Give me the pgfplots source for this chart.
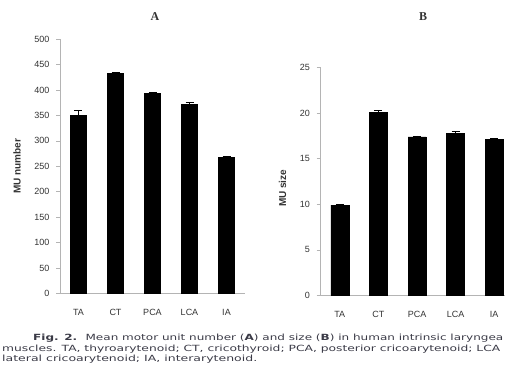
\documentclass[border=0pt]{standalone}
\usepackage{pgfplots}
\pgfplotsset{compat=1.18}
\usepackage{fontspec}
\setmainfont{Liberation Sans}
\newfontfamily\serifbold{Liberation Serif}
\newfontfamily\capfont{DejaVu Sans}
\usepackage{graphicx}
\definecolor{axgray}{HTML}{B4B4B4}
\definecolor{txtgray}{HTML}{333333}
\definecolor{capcol}{HTML}{3A3A46}
\pgfplotsset{
  mystyle/.style={
    scale only axis,
    axis lines*=left,
    axis line style={axgray, line width=0.8pt},
    xmin=-0.5, xmax=4.5, ymin=0,
    xtick={0,1,2,3,4},
    xticklabels={TA,CT,PCA,LCA,IA},
    major x tick style={draw=none},
    extra x ticks={0.5,1.5,2.5,3.5},
    extra x tick labels={},
    extra x tick style={major tick length=3pt, tick style={axgray, line width=0.6pt}, tick align=outside},
    ytick style={axgray, line width=0.6pt},
    major tick length=4pt,
    tick align=outside,
    /pgf/number format/assume math mode=true,
    ticklabel style={font=\fontsize{9}{10}\selectfont, text=txtgray},
    xticklabel style={yshift=-8pt},
    yticklabel style={xshift=-3pt},
    ylabel style={font=\bfseries\fontsize{10}{11}\selectfont, text=txtgray, anchor=center, rotate=0},
    clip=false,
  }
}
\begin{document}
\begin{tikzpicture}[x=1pt,y=1pt]
\useasboundingbox (0,0) rectangle (505,376);
\clip (0,0) rectangle (505,376);
% Panel A
\begin{axis}[mystyle,
  at={(60pt,82.5pt)}, anchor=south west,
  width=185pt, height=254.5pt,
  ymax=500, ytick={0,50,...,500},
  ylabel={MU number},
  ylabel style={at={(axis description cs:-0.232,0.5)}},
]
\addplot[ybar, bar width=16pt, fill=black, draw=black,
  error bars/.cd, y dir=plus, y explicit,
  error bar style={black, line width=0.8pt},
  error mark options={rotate=90, mark size=4pt, black, line width=0.8pt}]
coordinates {(0,350) +- (0,10) (1,432) +- (0,2) (2,393) +- (0,2) (3,371) +- (0,4) (4,268) +- (0,2)};
\end{axis}
% Panel B
\begin{axis}[mystyle,
  at={(320.5pt,80.5pt)}, anchor=south west,
  width=193pt, height=228pt,
  ymax=25, ytick={0,5,...,25},
  ylabel={MU size},
  ylabel style={at={(axis description cs:-0.197,0.47)}},
]
\addplot[ybar, bar width=18pt, fill=black, draw=black,
  error bars/.cd, y dir=plus, y explicit,
  error bar style={black, line width=0.8pt},
  error mark options={rotate=90, mark size=4pt, black, line width=0.8pt}]
coordinates {(0,9.9) +- (0,0.1) (1,20.1) +- (0,0.15) (2,17.4) +- (0,0.1) (3,17.8) +- (0,0.15) (4,17.1) +- (0,0.1)};
\end{axis}
% Titles
\node[font=\serifbold\bfseries\fontsize{12}{12}\selectfont, text=txtgray] at (155pt,359pt) {A};
\node[font=\serifbold\bfseries\fontsize{12}{12}\selectfont, text=txtgray] at (423pt,359pt) {B};
% Caption
\node[anchor=west, inner sep=0pt, text=capcol] at (33pt,37.5pt) {\resizebox{470pt}{\height}{\capfont\fontsize{8.5}{9}\selectfont\textbf{Fig. 2.}\hspace{0.7em}Mean motor unit number (\textbf{A}) and size (\textbf{B}) in human intrinsic laryngea}};
\node[anchor=west, inner sep=0pt, text=capcol] at (2pt,27pt) {\resizebox{498pt}{\height}{\capfont\fontsize{8.5}{9}\selectfont muscles. TA, thyroarytenoid; CT, cricothyroid; PCA, posterior cricoarytenoid; LCA}};
\node[anchor=west, inner sep=0pt, text=capcol] at (2pt,16.5pt) {\resizebox{255pt}{\height}{\capfont\fontsize{8.5}{9}\selectfont lateral cricoarytenoid; IA, interarytenoid.}};
\end{tikzpicture}
\end{document}
